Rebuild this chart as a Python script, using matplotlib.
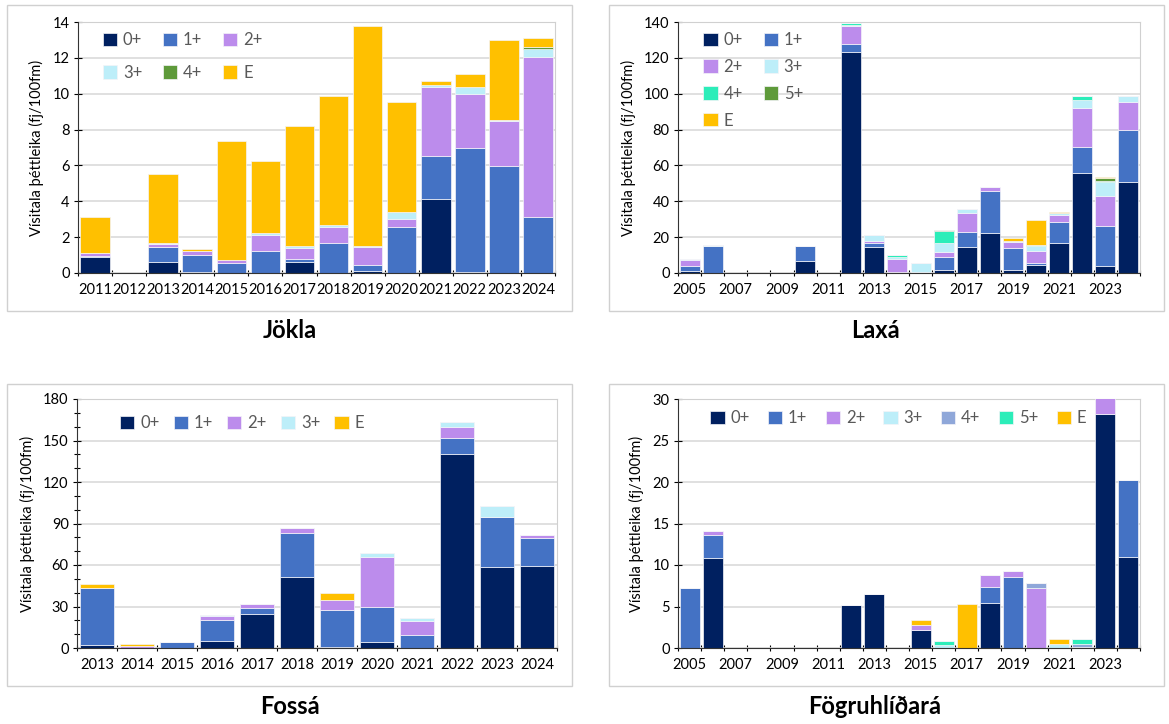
import numpy as np
import matplotlib.pyplot as plt
from matplotlib.patches import Rectangle
from matplotlib.ticker import MultipleLocator, FixedLocator

plt.rcParams['font.family'] = ['Lato', 'DejaVu Sans']

# colours per age group
NAVY = '#002060'
BLUE = '#4472C4'
LILAC = '#BC8CEC'
ICE = '#BDEEF9'
GREEN = '#5E9A3A'
TEAL = '#2CEDB9'
SLATE = '#8FA7D9'
GOLD = '#FFC000'

# Jökla 2011-2024
jokla_years = list(range(2011, 2025))
jokla_0 = [0.9, 0, 0.6, 0.08, 0, 0, 0.6, 0, 0.1, 0, 4.1, 0.05, 0, 0]
jokla_1 = [0.05, 0, 0.85, 0.92, 0.55, 1.2, 0.2, 1.7, 0.35, 2.55, 2.45, 6.9, 5.95, 3.1]
jokla_2 = [0.15, 0, 0.15, 0.2, 0.2, 0.9, 0.6, 0.85, 1.0, 0.45, 3.8, 3.05, 2.55, 8.95]
jokla_3 = [0, 0, 0.1, 0.05, 0, 0.15, 0.1, 0.1, 0.05, 0.4, 0.15, 0.35, 0.05, 0.45]
jokla_4 = [0, 0, 0, 0, 0, 0, 0, 0, 0, 0, 0, 0.05, 0, 0.1]
jokla_e = [2.05, 0, 3.8, 0.1, 6.6, 4.0, 6.7, 7.2, 12.3, 6.15, 0.2, 0.7, 4.45, 0.5]

# Laxá 2005-2024
laxa_years = list(range(2005, 2025))
laxa_0 = [1, 0, 0, 0, 0, 6.5, 0, 123, 14.5, 0.7, 0.3, 1.5, 14.5, 22.5, 1.5, 4.5, 16.5, 55.5, 4, 51]
laxa_1 = [3, 15, 0, 0, 0, 8.5, 0, 4.5, 2.5, 0, 0, 7.5, 8.5, 23, 12.5, 1, 12, 15, 22, 28.5]
laxa_2 = [3.5, 0, 0, 0, 0, 0, 0, 10, 0.8, 7, 0.5, 2.5, 10.5, 2.5, 3.5, 6.5, 4, 21.5, 17, 16]
laxa_3 = [0.5, 0.5, 0, 0, 0, 0.3, 0, 1, 3.2, 1.3, 4.5, 5, 2, 0, 0.5, 3, 0.8, 4.5, 7.5, 3.5]
laxa_4 = [0, 0, 0, 0, 0, 0, 0, 1, 0, 1, 0, 7, 0, 0, 0, 0.5, 0, 2.5, 1, 0]
laxa_5 = [0, 0, 0, 0, 0, 0, 0, 0, 0, 0, 0, 0.5, 0, 0, 0, 0, 0, 0, 1.5, 0]
laxa_e = [0, 0, 0, 0, 0, 0, 0, 0, 0, 0, 0, 0, 0, 0, 1.5, 14, 0.5, 0, 0.5, 0]

# Fossá 2013-2024
fossa_years = list(range(2013, 2025))
fossa_0 = [2.5, 0.3, 0, 5, 24.5, 51, 1, 4.5, 0, 140, 58.5, 59.5]
fossa_1 = [41, 0, 4, 15, 4.5, 32, 26.5, 25, 9.5, 12, 36.5, 20]
fossa_2 = [0, 1, 0, 3, 3, 4, 7.5, 36, 10, 8, 0, 2]
fossa_3 = [0, 0.3, 0.5, 0.5, 0, 0, 0, 3, 2, 3.5, 7.5, 0.5]
fossa_e = [3, 1.4, 0, 0, 0, 0, 4.5, 0, 0, 0, 0, 0]

# Fögruhlíðará 2005-2024
fogru_years = list(range(2005, 2025))
fogru_0 = [0, 10.8, 0, 0, 0, 0, 0, 5.2, 6.5, 0, 2.2, 0, 0, 5.4, 0, 0, 0, 0, 28.2, 11]
fogru_1 = [7.2, 2.8, 0, 0, 0, 0, 0, 0, 0, 0, 0, 0, 0, 2.0, 8.5, 0, 0, 0, 0, 9.3]
fogru_2 = [0, 0.45, 0, 0, 0, 0, 0, 0, 0, 0, 0.6, 0, 0, 1.45, 0.75, 7.25, 0, 0, 2.5, 0]
fogru_3 = [0, 0, 0, 0, 0, 0, 0, 0, 0, 0, 0, 0.4, 0, 0, 0, 0, 0.5, 0.1, 0, 0]
fogru_4 = [0, 0, 0, 0, 0, 0, 0, 0, 0, 0, 0, 0, 0, 0, 0, 0.55, 0, 0.4, 0, 0]
fogru_5 = [0, 0, 0, 0, 0, 0, 0, 0, 0, 0, 0, 0.45, 0, 0, 0, 0, 0, 0.55, 0, 0]
fogru_e = [0, 0, 0, 0, 0, 0, 0, 0, 0, 0, 0.6, 0, 5.3, 0, 0, 0, 0.6, 0, 0, 0]

YLABEL = 'Vísitala þéttleika (fj/100fm)'

fig = plt.figure(figsize=(11.69, 7.24), dpi=100)
W, H = 1169, 724


def px_axes(x0, x1, ytop, ybot):
    return fig.add_axes([x0 / W, 1 - ybot / H, (x1 - x0) / W, (ybot - ytop) / H])


def frame(x0, y0, x1, y1):
    fig.patches.append(Rectangle((x0 / W, 1 - y1 / H), (x1 - x0) / W, (y1 - y0) / H,
                                 transform=fig.transFigure, fill=False,
                                 edgecolor='#D0D0D0', linewidth=1.0))


def stacked(ax, years, series, ymax, ystep, label_step=1, minor=None):
    x = np.arange(len(years))
    bottom = np.zeros(len(years))
    for name, vals, col in series:
        vals = np.array(vals, dtype=float)
        ax.bar(x, vals, width=0.87, bottom=bottom, color=col, edgecolor='#F4F4F8',
               linewidth=0.5, label=name, zorder=3)
        bottom += vals
    ax.set_xlim(-0.5, len(years) - 0.5)
    ax.set_ylim(0, ymax)
    ax.yaxis.set_major_locator(MultipleLocator(ystep))
    if minor:
        ax.yaxis.set_minor_locator(MultipleLocator(minor))
        ax.tick_params(axis='y', which='minor', length=4, width=0.8, direction='inout')
    ax.grid(axis='y', color='#DADADA', linewidth=1.2, zorder=0)
    ax.set_axisbelow(True)
    ax.xaxis.set_major_locator(FixedLocator(x[::label_step]))
    ax.set_xticklabels([str(y) for y in years[::label_step]])
    ax.xaxis.set_minor_locator(FixedLocator(np.arange(len(years) + 1) - 0.5))
    ax.tick_params(axis='x', which='major', length=0, pad=7, labelsize=10.5)
    ax.tick_params(axis='x', which='minor', length=5, width=0.8, direction='inout')
    ax.tick_params(axis='y', which='major', length=6, width=0.8, direction='inout',
                   labelsize=10.5, pad=3)
    for s in ('top', 'right'):
        ax.spines[s].set_color('#D0D0D0')
    for s in ('left', 'bottom'):
        ax.spines[s].set_color('#333333')
        ax.spines[s].set_zorder(4)
    ax.set_ylabel(YLABEL, fontsize=10.5, labelpad=6)


def legend(ax, ncol, anchor, colspace, rowspace):
    # matplotlib fills columns first; reorder so entries read across the rows
    handles, labels = ax.get_legend_handles_labels()
    n = len(handles)
    nrows = int(np.ceil(n / ncol))
    order = [r * ncol + c for c in range(ncol) for r in range(nrows) if r * ncol + c < n]
    leg = ax.legend([handles[i] for i in order], [labels[i] for i in order],
                    loc='upper left', bbox_to_anchor=anchor, ncol=ncol, frameon=False,
                    fontsize=12, labelcolor='#595959', handlelength=0.85, handleheight=0.85,
                    handletextpad=0.35, columnspacing=colspace, labelspacing=rowspace,
                    borderaxespad=0, borderpad=0)
    leg.set_zorder(5)


# panel frames
frame(7, 5, 572, 311)
frame(609, 5, 1164, 311)
frame(7, 384, 572, 686)
frame(609, 384, 1164, 686)

# Jökla
ax1 = px_axes(78, 555, 22, 273)
stacked(ax1, jokla_years, [('0+', jokla_0, NAVY), ('1+', jokla_1, BLUE), ('2+', jokla_2, LILAC),
                           ('3+', jokla_3, ICE), ('4+', jokla_4, GREEN), ('E', jokla_e, GOLD)],
        14, 2)
legend(ax1, 3, (0.052, 0.96), 1.25, 1.0)
fig.text(290 / W, 1 - 331 / H, 'Jökla', ha='center', va='center', fontsize=17, fontweight='bold')

# Laxá
ax2 = px_axes(678, 1140, 22, 273)
stacked(ax2, laxa_years, [('0+', laxa_0, NAVY), ('1+', laxa_1, BLUE), ('2+', laxa_2, LILAC),
                          ('3+', laxa_3, ICE), ('4+', laxa_4, TEAL), ('5+', laxa_5, GREEN),
                          ('E', laxa_e, GOLD)],
        140, 20, label_step=2)
legend(ax2, 2, (0.055, 0.96), 1.25, 0.65)
fig.text(875 / W, 1 - 331 / H, 'Laxá', ha='center', va='center', fontsize=17, fontweight='bold')

# Fossá
ax3 = px_axes(77, 557, 399, 648)
stacked(ax3, fossa_years, [('0+', fossa_0, NAVY), ('1+', fossa_1, BLUE), ('2+', fossa_2, LILAC),
                           ('3+', fossa_3, ICE), ('E', fossa_e, GOLD)],
        180, 30, minor=10)
legend(ax3, 5, (0.09, 0.935), 0.85, 0.5)
fig.text(290 / W, 1 - 707 / H, 'Fossá', ha='center', va='center', fontsize=17, fontweight='bold')

# Fögruhlíðará
ax4 = px_axes(678, 1140, 399, 648)
stacked(ax4, fogru_years, [('0+', fogru_0, NAVY), ('1+', fogru_1, BLUE), ('2+', fogru_2, LILAC),
                           ('3+', fogru_3, ICE), ('4+', fogru_4, SLATE), ('5+', fogru_5, TEAL),
                           ('E', fogru_e, GOLD)],
        30, 5, label_step=2)
legend(ax4, 7, (0.07, 0.955), 1.1, 0.5)
fig.text(875 / W, 1 - 707 / H, 'Fögruhlíðará', ha='center', va='center', fontsize=17,
         fontweight='bold')

fig.savefig('out.png', dpi=100)
